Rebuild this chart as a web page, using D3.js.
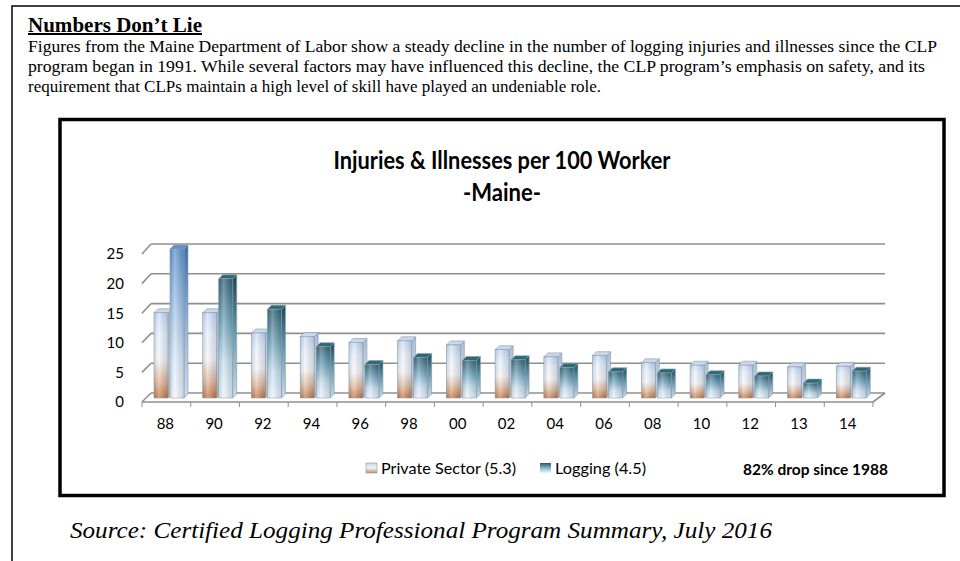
<!DOCTYPE html>
<html>
<head>
<meta charset="utf-8">
<script src="https://cdn.jsdelivr.net/npm/d3@7/dist/d3.min.js"></script>
<style>
  body { margin: 0; background: #fff; }
  svg { display: block; }
</style>
</head>
<body>
<div id="chart-container"></div>
<script>
// Injuries & Illnesses per 100 Worker - Maine (3D clustered columns)
const categories = ["88", "90", "92", "94", "96", "98", "00", "02", "04", "06", "08", "10", "12", "13", "14"];
const privateSector = [14.3, 14.3, 10.9, 10.3, 9.3, 9.6, 8.9, 8.1, 6.9, 7.1, 5.9, 5.5, 5.5, 5.2, 5.3];
const logging = [25.0, 20.0, 14.9, 8.6, 5.6, 6.8, 6.3, 6.4, 5.1, 4.4, 4.2, 3.9, 3.7, 2.5, 4.5];
const yTicks = [0, 5, 10, 15, 20, 25];
const seriesNames = ["Private Sector (5.3)", "Logging (4.5)"];

const paragraph = [
    "Figures from the Maine Department of Labor show a steady decline in the number of logging injuries and illnesses since the CLP",
    "program began in 1991.  While several factors may have influenced this decline, the CLP program\u2019s emphasis on safety, and its",
    "requirement that CLPs maintain a high level of skill have played an undeniable role."
];

const width = 960, height = 561;
const svg = d3.select("#chart-container")
    .append("svg")
    .attr("width", width)
    .attr("height", height);

const defs = svg.append("defs");
function grad(id, stops, horizontal) {
    const g = defs.append("linearGradient").attr("id", id)
        .attr("x1", 0).attr("y1", 0)
        .attr("x2", horizontal ? 1 : 0).attr("y2", horizontal ? 0 : 1);
    stops.forEach(s => g.append("stop").attr("offset", s[0]).attr("stop-color", s[1]));
}
grad("privFront", [[0, "#c6d9f1"], [0.25, "#e9f1fb"], [0.55, "#f6f4f2"], [0.8, "#e2b18a"], [1, "#c0652a"]]);
grad("privSide", [[0, "#a7bcd6"], [0.6, "#c8d6e6"], [1, "#bfa893"]]);
grad("logFront", [[0, "#1b5160"], [0.35, "#5f98ad"], [0.7, "#c4dcea"], [1, "#eef5fb"]]);
grad("logFrontBlue", [[0, "#4f86c6"], [0.4, "#9bbfe4"], [0.75, "#dceaf7"], [1, "#f2f7fc"]]);
grad("logSide", [[0, "#174a55"], [0.5, "#6d9fb2"], [1, "#c9dbe6"]]);
grad("logSideBlue", [[0, "#3b6ea8"], [0.5, "#8fb2d8"], [1, "#cddcea"]]);
grad("shine", [[0, "rgba(120,140,170,0.25)"], [0.35, "rgba(255,255,255,0.35)"], [1, "rgba(90,110,140,0.25)"]], true);
grad("legPriv", [[0, "#c6d9f1"], [0.5, "#eef3f9"], [1, "#c58a5a"]]);
grad("legLog", [[0, "#1d5866"], [0.5, "#8ab6c8"], [1, "#eef5fb"]]);

// page frame (left and top rules only)
svg.append("path").attr("d", "M12,561 V6 H960")
    .attr("fill", "none").attr("stroke", "#000").attr("stroke-width", 1.5);

// heading + paragraph
const serif = "'Liberation Serif', 'Times New Roman', serif";
svg.append("text").attr("x", 28).attr("y", 32)
    .attr("textLength", 174).attr("lengthAdjust", "spacingAndGlyphs")
    .style("font-family", serif)
    .style("font-weight", "bold").style("font-size", "20px")
    .style("text-decoration", "underline")
    .text("Numbers Don\u2019t Lie");

const paraW = [909, 897, null];
svg.selectAll(".para").data(paragraph).enter().append("text")
    .attr("class", "para")
    .attr("x", 28)
    .attr("y", (d, i) => 52 + i * 20)
    .attr("textLength", (d, i) => paraW[i])
    .attr("lengthAdjust", "spacingAndGlyphs")
    .style("font-family", serif)
    .style("font-size", "17px")
    .text(d => d);

// chart box
svg.append("rect").attr("x", 60).attr("y", 119.5).attr("width", 884).attr("height", 376)
    .attr("fill", "#fff").attr("stroke", "#000").attr("stroke-width", 3.5);

const font = "Lato, 'Open Sans', sans-serif";
svg.append("text").attr("x", 502).attr("y", 169).attr("text-anchor", "middle")
    .attr("textLength", 337).attr("lengthAdjust", "spacingAndGlyphs")
    .style("font-family", font).style("font-weight", "bold").style("font-size", "24px")
    .text("Injuries & Illnesses per 100 Worker");
svg.append("text").attr("x", 502).attr("y", 201).attr("text-anchor", "middle")
    .attr("textLength", 78).attr("lengthAdjust", "spacingAndGlyphs")
    .style("font-family", font).style("font-weight", "bold").style("font-size", "24px")
    .text("-Maine-");

// scales: front edge, back wall, bars in the middle of the depth
const x = d3.scaleBand().domain(categories).range([142, 873]);
const yFront = d3.scaleLinear().domain([0, 25]).range([402, 254]);
const yBack = d3.scaleLinear().domain([0, 25]).range([393, 244]);
const yBar = d3.scaleLinear().domain([0, 25]).range([398, 249]);
const wallDx = 9;

// back wall gridlines and side wall diagonals
const grid = svg.append("g").attr("stroke", "#8f8f8f").attr("stroke-width", 1.6).attr("fill", "none");
yTicks.forEach(t => {
    grid.append("line").attr("x1", 142 + wallDx).attr("x2", 885)
        .attr("y1", yBack(t)).attr("y2", yBack(t));
    grid.append("line").attr("x1", 142).attr("x2", 142 + wallDx)
        .attr("y1", yFront(t)).attr("y2", yBack(t));
});
// floor front edge and right edge
grid.append("line").attr("x1", 142).attr("x2", 873).attr("y1", yFront(0)).attr("y2", yFront(0));
grid.append("line").attr("x1", 873).attr("x2", 885).attr("y1", yFront(0)).attr("y2", yBack(0));
// ticks on the category boundaries
const bounds = categories.map(c => x(c)).concat([x.range()[1]]);
grid.selectAll(".tk").data(bounds).enter().append("line")
    .attr("x1", d => d).attr("x2", d => d)
    .attr("y1", yFront(0)).attr("y2", yFront(0) + 5)
    .attr("stroke-width", 1);

// axis labels
const yAxis = svg.append("g").attr("transform", "translate(124,0)")
    .call(d3.axisLeft(yFront).tickValues(yTicks).tickSize(0).tickPadding(0));
yAxis.select(".domain").remove();
yAxis.selectAll("text").style("font-family", font).style("font-size", "15px").attr("fill", "#000");

const xAxis = svg.append("g").attr("transform", "translate(-1,418)")
    .call(d3.axisBottom(x).tickSize(0).tickPadding(0));
xAxis.select(".domain").remove();
xAxis.selectAll("text").style("font-family", font).style("font-size", "15px").attr("fill", "#000");

// 3D bars
const bw = 14, dx = 4, dy = 4;
const bars = [];
categories.forEach((c, i) => {
    bars.push({ c: c, i: i, v: privateSector[i], off: 12, s: 0 });
    bars.push({ c: c, i: i, v: logging[i], off: 28, s: 1 });
});
const g = svg.selectAll(".bar").data(bars).enter().append("g").attr("class", "bar");
g.each(function (d) {
    const el = d3.select(this);
    const x0 = x(d.c) + d.off, x1 = x0 + bw;
    const yt = yBar(d.v), yb = yBar(0);
    const blue = d.s === 1 && d.i === 0;
    const front = d.s === 0 ? "url(#privFront)" : (blue ? "url(#logFrontBlue)" : "url(#logFront)");
    const side = d.s === 0 ? "url(#privSide)" : (blue ? "url(#logSideBlue)" : "url(#logSide)");
    const top = d.s === 0 ? "#c9d8ea" : (blue ? "#5f90c8" : "#2b6a78");
    el.append("polygon")
        .attr("points", [[x1, yt], [x1 + dx, yt - dy], [x1 + dx, yb - dy], [x1, yb]].join(" "))
        .attr("fill", side).attr("stroke", "#8a9aa8").attr("stroke-width", 0.6);
    el.append("polygon")
        .attr("points", [[x0, yt], [x0 + dx, yt - dy], [x1 + dx, yt - dy], [x1, yt]].join(" "))
        .attr("fill", top).attr("stroke", "#8a9aa8").attr("stroke-width", 0.6);
    el.append("rect").attr("x", x0).attr("y", yt).attr("width", bw).attr("height", yb - yt)
        .attr("fill", front).attr("stroke", "#8a9aa8").attr("stroke-width", 0.6);
    el.append("rect").attr("x", x0).attr("y", yt).attr("width", bw).attr("height", yb - yt)
        .attr("fill", "url(#shine)");
});

// legend
const legend = svg.append("g").style("font-family", font).style("font-size", "16px");
const legX = [366, 540];
const legW = [135, 91];
seriesNames.forEach((n, i) => {
    legend.append("rect").attr("x", legX[i]).attr("y", 463).attr("width", 11).attr("height", 10)
        .attr("fill", i === 0 ? "url(#legPriv)" : "url(#legLog)")
        .attr("stroke", i === 0 ? "#8a9aa8" : "none").attr("stroke-width", 0.6);
    legend.append("text").attr("x", legX[i] + 15).attr("y", 474)
        .attr("textLength", legW[i]).attr("lengthAdjust", "spacingAndGlyphs").text(n);
});
svg.append("text").attr("x", 888).attr("y", 475).attr("text-anchor", "end")
    .attr("textLength", 145).attr("lengthAdjust", "spacingAndGlyphs")
    .style("font-family", font).style("font-weight", "bold").style("font-size", "16px")
    .text("82% drop since 1988");

// source line
svg.append("text").attr("x", 70).attr("y", 538)
    .attr("textLength", 702).attr("lengthAdjust", "spacingAndGlyphs")
    .style("font-family", serif)
    .style("font-style", "italic").style("font-size", "23px")
    .text("Source: Certified Logging Professional Program Summary, July 2016");
</script>
</body>
</html>
